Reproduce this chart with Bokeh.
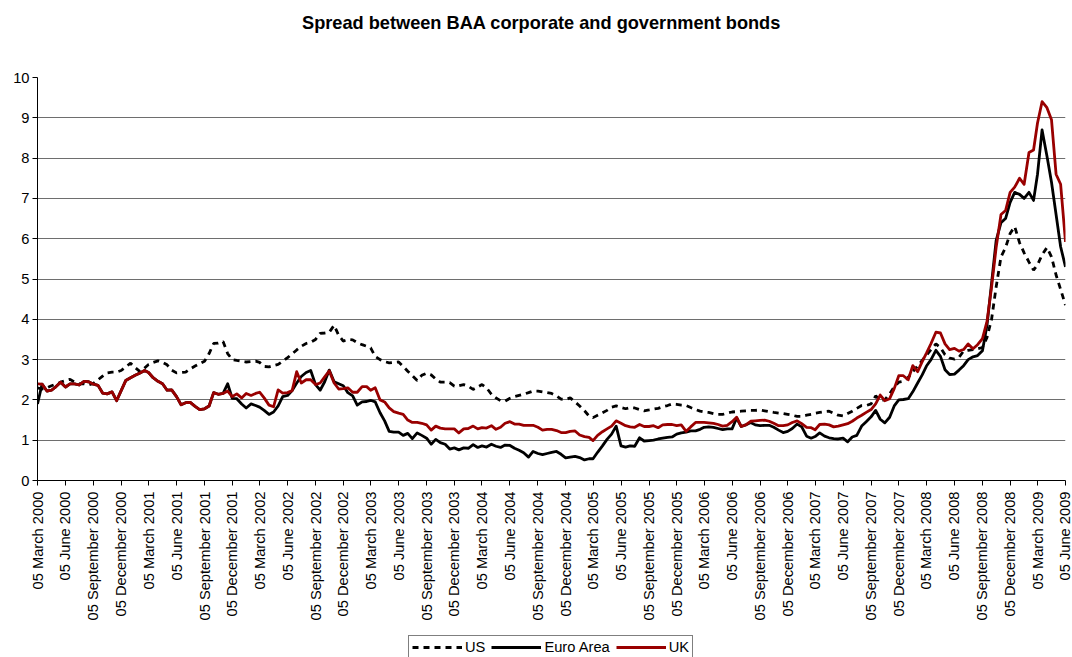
import math
from datetime import date, datetime

from bokeh.plotting import figure
from bokeh.layouts import column
from bokeh.models import Range1d, FixedTicker, Legend, Label
from bokeh.embed import file_html
from bokeh.resources import INLINE

TITLE = "Spread between BAA corporate and government bonds"
SERIES_NAMES = ["US", "Euro Area", "UK"]

# Spread (percentage points), sampled on the 5th and 20th of each month,
# 05 March 2000 .. 05 June 2009
us = [
    2.30, 2.27, 2.30, 2.35, 2.39, 2.44, 2.48, 2.51, 2.44, 2.40,
    2.40, 2.37, 2.41, 2.50, 2.59, 2.67, 2.69, 2.69, 2.73, 2.82,
    2.91, 2.80, 2.70, 2.79, 2.88, 2.93, 2.97, 2.93, 2.87, 2.74,
    2.67, 2.68, 2.69, 2.77, 2.84, 2.90, 2.96, 3.15, 3.40, 3.41,
    3.45, 3.15, 3.00, 2.98, 2.96, 2.94, 2.95, 2.96, 2.93, 2.83,
    2.82, 2.85, 2.88, 2.96, 3.05, 3.14, 3.24, 3.33, 3.40, 3.43,
    3.50, 3.65, 3.66, 3.68, 3.85, 3.60, 3.46, 3.50, 3.49, 3.42,
    3.37, 3.33, 3.29, 3.08, 3.00, 2.95, 2.92, 2.93, 2.94, 2.83,
    2.71, 2.60, 2.48, 2.61, 2.66, 2.62, 2.52, 2.44, 2.44, 2.43,
    2.34, 2.35, 2.38, 2.34, 2.26, 2.32, 2.38, 2.30, 2.14, 2.05,
    1.98, 1.97, 2.04, 2.08, 2.11, 2.14, 2.18, 2.22, 2.22, 2.20,
    2.18, 2.16, 2.10, 2.02, 2.01, 2.05, 1.95, 1.85, 1.73, 1.60,
    1.56, 1.62, 1.68, 1.74, 1.82, 1.85, 1.81, 1.78, 1.81, 1.80,
    1.76, 1.73, 1.75, 1.77, 1.79, 1.83, 1.86, 1.90, 1.89, 1.87,
    1.86, 1.81, 1.76, 1.72, 1.70, 1.69, 1.66, 1.64, 1.64, 1.67,
    1.70, 1.71, 1.72, 1.73, 1.74, 1.74, 1.75, 1.73, 1.71, 1.69,
    1.67, 1.66, 1.64, 1.62, 1.59, 1.59, 1.62, 1.64, 1.67, 1.69,
    1.71, 1.72, 1.67, 1.62, 1.60, 1.66, 1.72, 1.79, 1.86, 1.86,
    1.90, 2.10, 1.99, 2.00, 2.15, 2.33, 2.44, 2.46, 2.56, 2.70,
    2.84, 2.98, 3.11, 3.25, 3.39, 3.30, 3.12, 3.04, 3.01, 3.06,
    3.21, 3.23, 3.25, 3.27, 3.30, 3.55, 4.00, 4.80, 5.55, 5.78,
    6.13, 6.30, 5.90, 5.65, 5.42, 5.22, 5.35, 5.60, 5.78, 5.55,
    5.10, 4.74, 4.35,
]

euro_area = [
    1.90, 2.39, 2.22, 2.24, 2.33, 2.44, 2.32, 2.40, 2.40, 2.37,
    2.46, 2.45, 2.39, 2.36, 2.17, 2.15, 2.20, 1.98, 2.23, 2.48,
    2.55, 2.61, 2.67, 2.73, 2.68, 2.55, 2.46, 2.40, 2.24, 2.25,
    2.08, 1.88, 1.93, 1.94, 1.84, 1.76, 1.78, 1.85, 2.18, 2.14,
    2.16, 2.40, 2.04, 2.03, 1.90, 1.80, 1.90, 1.86, 1.82, 1.74,
    1.64, 1.70, 1.85, 2.08, 2.11, 2.23, 2.42, 2.58, 2.68, 2.73,
    2.38, 2.24, 2.45, 2.74, 2.45, 2.40, 2.35, 2.18, 2.10, 1.87,
    1.95, 1.96, 1.99, 1.95, 1.68, 1.48, 1.22, 1.20, 1.20, 1.12,
    1.17, 1.04, 1.18, 1.12, 1.05, 0.90, 1.02, 0.94, 0.90, 0.78,
    0.81, 0.76, 0.81, 0.80, 0.89, 0.82, 0.86, 0.83, 0.90, 0.85,
    0.82, 0.88, 0.87, 0.80, 0.75, 0.69, 0.58, 0.72, 0.67, 0.64,
    0.67, 0.70, 0.72, 0.65, 0.56, 0.58, 0.60, 0.57, 0.51, 0.54,
    0.54, 0.70, 0.86, 1.02, 1.15, 1.35, 0.86, 0.83, 0.86, 0.85,
    1.06, 0.98, 0.99, 1.00, 1.03, 1.05, 1.07, 1.08, 1.15, 1.18,
    1.20, 1.23, 1.23, 1.27, 1.32, 1.33, 1.32, 1.29, 1.26, 1.28,
    1.28, 1.55, 1.34, 1.38, 1.44, 1.38, 1.36, 1.37, 1.37, 1.32,
    1.25, 1.19, 1.22, 1.29, 1.40, 1.33, 1.10, 1.05, 1.09, 1.18,
    1.10, 1.06, 1.04, 1.03, 1.05, 0.96, 1.08, 1.12, 1.35, 1.46,
    1.58, 1.74, 1.52, 1.43, 1.57, 1.85, 2.00, 2.01, 2.03, 2.20,
    2.42, 2.62, 2.84, 3.00, 3.23, 3.08, 2.75, 2.63, 2.64, 2.74,
    2.85, 3.00, 3.07, 3.10, 3.22, 3.85, 4.90, 5.95, 6.40, 6.50,
    6.90, 7.15, 7.10, 7.00, 7.15, 6.95, 7.60, 8.70, 8.05, 7.40,
    6.60, 5.80, 5.30,
]

uk = [
    2.40, 2.39, 2.22, 2.24, 2.33, 2.44, 2.32, 2.40, 2.40, 2.37,
    2.46, 2.45, 2.39, 2.36, 2.17, 2.15, 2.20, 1.98, 2.23, 2.48,
    2.55, 2.61, 2.67, 2.73, 2.68, 2.55, 2.46, 2.40, 2.24, 2.25,
    2.08, 1.88, 1.93, 1.94, 1.84, 1.76, 1.78, 1.85, 2.18, 2.14,
    2.16, 2.22, 2.08, 2.15, 2.05, 2.16, 2.11, 2.16, 2.19, 2.05,
    1.87, 1.83, 2.25, 2.17, 2.18, 2.23, 2.70, 2.42, 2.50, 2.50,
    2.38, 2.42, 2.57, 2.72, 2.42, 2.27, 2.28, 2.30, 2.19, 2.19,
    2.33, 2.33, 2.24, 2.30, 2.00, 1.95, 1.80, 1.71, 1.67, 1.64,
    1.50, 1.44, 1.44, 1.42, 1.38, 1.25, 1.35, 1.30, 1.28, 1.28,
    1.28, 1.18, 1.28, 1.29, 1.35, 1.28, 1.31, 1.30, 1.36, 1.27,
    1.32, 1.42, 1.46, 1.40, 1.40, 1.37, 1.37, 1.37, 1.32, 1.25,
    1.27, 1.27, 1.24, 1.19, 1.19, 1.22, 1.23, 1.13, 1.09, 1.07,
    0.99, 1.12, 1.21, 1.28, 1.35, 1.48, 1.42, 1.36, 1.33, 1.32,
    1.39, 1.34, 1.34, 1.36, 1.31, 1.38, 1.39, 1.39, 1.36, 1.38,
    1.22, 1.33, 1.44, 1.44, 1.44, 1.43, 1.42, 1.39, 1.35, 1.37,
    1.46, 1.57, 1.34, 1.38, 1.47, 1.48, 1.49, 1.50, 1.47, 1.42,
    1.36, 1.36, 1.38, 1.44, 1.48, 1.41, 1.32, 1.31, 1.26, 1.39,
    1.40, 1.38, 1.33, 1.35, 1.38, 1.41, 1.47, 1.55, 1.62, 1.69,
    1.76, 1.90, 2.12, 1.98, 2.03, 2.28, 2.60, 2.60, 2.50, 2.85,
    2.70, 2.95, 3.16, 3.40, 3.68, 3.66, 3.39, 3.25, 3.28, 3.21,
    3.25, 3.39, 3.27, 3.37, 3.52, 3.95, 4.80, 5.78, 6.60, 6.70,
    7.15, 7.28, 7.50, 7.35, 8.14, 8.20, 8.87, 9.40, 9.25, 8.95,
    7.60, 7.35, 5.92,
]

y_ticks = [0, 1, 2, 3, 4, 5, 6, 7, 8, 9, 10]
tick_months = [3, 6, 9, 12]

FONT = "Liberation Sans"
UK_RED = "#990000"
LINE_W = 2.8
PAGE_W = 1072
FRAME_L, FRAME_R = 37, 1065          # left / right edge of the plotting area
TITLE_H, CHART_H, LEGEND_H = 40, 593, 24


def sample_dates():
    """5th and 20th of every month, ending on 05 June 2009."""
    out = []
    y, m = 2000, 3
    while True:
        out.append(date(y, m, 5))
        if (y, m) == (2009, 6):
            break
        out.append(date(y, m, 20))
        m += 1
        if m > 12:
            m, y = 1, y + 1
    return out


def to_ms(d):
    return (datetime(d.year, d.month, d.day) - datetime(1970, 1, 1)).total_seconds() * 1000.0


def blank_strip(height):
    """A bare strip (page-pixel coordinates) for the heading and the key.
    Its drawing area lines up with the chart's plotting area."""
    f = figure(width=PAGE_W, height=height, title=None,
               x_range=Range1d(FRAME_L, FRAME_R), y_range=Range1d(0, height),
               x_axis_location=None, y_axis_location=None,
               output_backend="svg", toolbar_location=None,
               min_border=0, min_border_left=FRAME_L, min_border_right=PAGE_W - FRAME_R,
               min_border_top=0, min_border_bottom=0)
    f.outline_line_color = None
    f.xgrid.visible = False
    f.ygrid.visible = False
    return f


dates = sample_dates()
x = [to_ms(d) for d in dates]

# quarterly axis ticks: 05 March / June / September / December
tick_dates = [date(y, m, 5) for y in range(2000, 2010) for m in tick_months
              if date(2000, 3, 5) <= date(y, m, 5) <= date(2009, 6, 5)]
tick_ms = [to_ms(d) for d in tick_dates]
tick_labels = [d.strftime("%d %B %Y") for d in tick_dates]

# ---- heading -------------------------------------------------------------
head = blank_strip(TITLE_H)
head.add_layout(Label(x=541, y=TITLE_H - 22, text=TITLE,
                      text_align="center", text_baseline="middle",
                      text_font=FONT, text_font_size="18.2px",
                      text_font_style="bold", text_color="black"))

# ---- chart ---------------------------------------------------------------
p = figure(
    width=PAGE_W, height=CHART_H, title=None,
    x_range=Range1d(x[0], x[-1]), y_range=Range1d(0, 10),
    output_backend="svg", toolbar_location=None,
    min_border_left=FRAME_L, min_border_right=PAGE_W - FRAME_R,
    min_border_top=37, min_border_bottom=153,
    background_fill_color="white", border_fill_color="white",
)
p.outline_line_color = None

p.line(x, us, color="black", line_width=LINE_W, line_dash="6 5")
p.line(x, euro_area, color="black", line_width=LINE_W, line_join="round")
p.line(x, uk, color=UK_RED, line_width=LINE_W, line_join="round")

p.xgrid.visible = False
p.ygrid.ticker = FixedTicker(ticks=y_ticks)
p.ygrid.grid_line_color = "#6e6e6e"
p.ygrid.grid_line_width = 1

yax = p.yaxis[0]
yax.ticker = FixedTicker(ticks=y_ticks)
yax.axis_line_color = "black"
yax.major_tick_line_color = "black"
yax.major_tick_out = 5
yax.major_tick_in = 0
yax.minor_tick_out = 0
yax.minor_tick_in = 0
yax.major_label_standoff = 3
yax.major_label_text_font = FONT
yax.major_label_text_font_size = "14.7px"
yax.major_label_text_color = "black"

xax = p.xaxis[0]
xax.ticker = FixedTicker(ticks=tick_ms)
xax.major_label_overrides = dict(zip(tick_ms, tick_labels))
xax.major_label_orientation = math.pi / 2
xax.axis_line_color = "black"
xax.major_tick_line_color = "black"
xax.major_tick_out = 5
xax.major_tick_in = 0
xax.minor_tick_out = 0
xax.minor_tick_in = 0
xax.major_label_standoff = 6
xax.major_label_text_font = FONT
xax.major_label_text_font_size = "14.7px"
xax.major_label_text_color = "black"

# ---- key -----------------------------------------------------------------
# the key strip carries the same three series (outside its visible range),
# so the legend entries have real renderers to draw their swatches from
key = blank_strip(LEGEND_H)
k_us = key.line(x, us, color="black", line_width=LINE_W, line_dash="6 5")
k_eu = key.line(x, euro_area, color="black", line_width=LINE_W)
k_uk = key.line(x, uk, color=UK_RED, line_width=LINE_W)
legend = Legend(
    items=[(SERIES_NAMES[0], [k_us]), (SERIES_NAMES[1], [k_eu]), (SERIES_NAMES[2], [k_uk])],
    orientation="horizontal",
    location=(371, -2),
    glyph_width=50, glyph_height=16,
    label_standoff=3, spacing=6, padding=3, margin=0,
    border_line_color="black", border_line_width=1,
    background_fill_color="white", background_fill_alpha=1.0,
    label_text_font=FONT, label_text_font_size="14.7px", label_text_color="black",
)
key.add_layout(legend)

page = column(head, p, key, spacing=0)
open("out.html", "w").write(file_html(page, INLINE))
